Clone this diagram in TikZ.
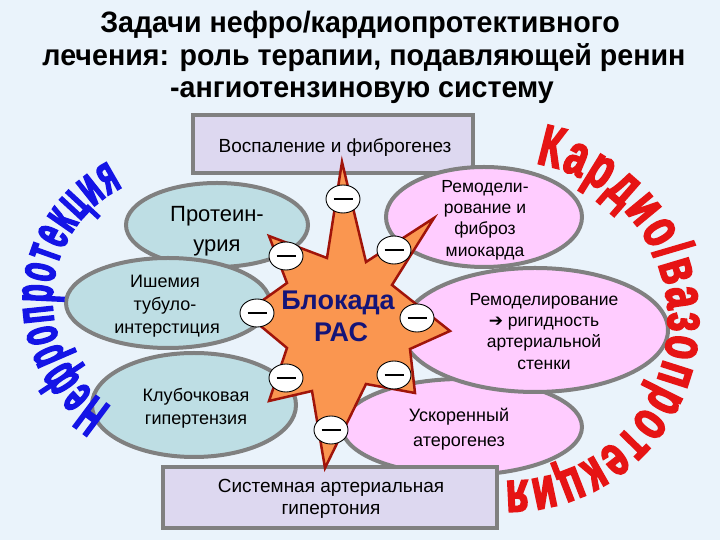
\documentclass[tikz,border=0pt]{standalone}
\usepackage{fontspec}
\setmainfont{Liberation Sans}
\newfontfamily\titlefont{Liberation Sans Bold}[FakeStretch=0.97]
\newfontfamily\arcfontB{Liberation Sans Bold}[FakeStretch=0.52,FakeBold=2.5]
\newfontfamily\arcfontR{Liberation Sans Bold}[FakeStretch=0.66,FakeBold=3]
\newfontfamily\symfont{DejaVu Sans}
\usetikzlibrary{shapes.geometric,decorations.text}
\definecolor{bgc}{RGB}{234,243,251}
\definecolor{tealc}{RGB}{190,222,228}
\definecolor{pinkc}{RGB}{255,204,255}
\definecolor{boxc}{RGB}{221,216,240}
\definecolor{grayc}{RGB}{128,128,128}
\definecolor{starc}{RGB}{250,150,80}
\definecolor{stardc}{RGB}{160,20,10}
\definecolor{navyc}{RGB}{20,20,120}
\definecolor{nblue}{RGB}{20,20,230}
\definecolor{nred}{RGB}{230,20,20}
\newcommand\bluearc{\fontsize{56}{56}\selectfont\arcfontB}
\newcommand\redarc{\fontsize{58}{58}\selectfont\arcfontR}
\begin{document}
\begin{tikzpicture}[x=1pt,y=1pt,
  titlestyle/.style={anchor=base,inner sep=0pt,font=\fontsize{29.5}{29.5}\titlefont},
  boxstyle/.style={rectangle,draw=grayc,fill=boxc,line width=4pt,inner sep=0pt},
  tealell/.style={ellipse,draw=grayc,fill=tealc,line width=4pt,inner sep=0pt},
  pinkell/.style={ellipse,draw=grayc,fill=pinkc,line width=4pt,inner sep=0pt},
  starstyle/.style={draw=stardc,fill=starc,line width=2.5pt,line join=miter},
  minusnode/.style={ellipse,draw=black,fill=white,line width=0.9pt,minimum width=34pt,minimum height=28pt,inner sep=0pt},
  txt/.style={anchor=base,inner sep=0pt,font=\fontsize{18}{18}\selectfont},
  txtb/.style={anchor=base,inner sep=0pt,font=\fontsize{19}{19}\selectfont},
  txtp/.style={anchor=base,inner sep=0pt,font=\fontsize{17.5}{17.5}\selectfont},
  blk/.style={anchor=base,inner sep=0pt,text=navyc,font=\fontsize{27}{27}\selectfont\bfseries}]
\fill[bgc] (0,0) rectangle (720,540);
\useasboundingbox (0,0) rectangle (720,540);
% title
\node[titlestyle] (t1) at (360,507) {Задачи нефро/кардиопротективного};
\node[titlestyle] (t2) at (364,474) {лечения: роль терапии, подавляющей ренин};
\node[titlestyle] (t3) at (362,442) {-ангиотензиновую систему};
% boxes
\node[boxstyle,minimum width=280pt,minimum height=58pt] (topbox) at (333,396) {};
% ellipses
\node[tealell,minimum width=182pt,minimum height=84pt] (e1) at (217,315) {};
\node[tealell,minimum width=204pt,minimum height=90pt] (e2) at (168,237) {};
\node[tealell,minimum width=204pt,minimum height=104pt] (e3) at (194,135) {};
\node[pinkell,minimum width=240pt,minimum height=96pt] (r3) at (462,113) {};
\node[pinkell,minimum width=266pt,minimum height=124pt] (r2) at (535,210) {};
\node[pinkell,minimum width=196pt,minimum height=100pt] (r1) at (484,323) {};
\node[boxstyle,minimum width=334pt,minimum height=61pt] (botbox) at (330,42.5) {};
% star
\draw[starstyle] (342,378) -- (366,278) -- (434,322) -- (392,255) -- (450,209) -- (410,191)
  -- (415,147) -- (366,156) -- (325,72) -- (312,149) -- (269,139) -- (287,192) -- (245,227)
  -- (287,257) -- (269,304) -- (327,282) -- cycle;
% minus signs
\node[minusnode] (m1) at (343,341) {\rule{19pt}{2.5pt}};
\node[minusnode] (m2) at (286,284) {\rule{19pt}{2.5pt}};
\node[minusnode] (m3) at (394,290) {\rule{19pt}{2.5pt}};
\node[minusnode] (m4) at (257,227) {\rule{19pt}{2.5pt}};
\node[minusnode] (m5) at (417,222) {\rule{19pt}{2.5pt}};
\node[minusnode] (m6) at (286,162) {\rule{19pt}{2.5pt}};
\node[minusnode] (m7) at (394,165) {\rule{19pt}{2.5pt}};
\node[minusnode] (m8) at (331,110) {\rule{19pt}{2.5pt}};
% texts
\node[txtb] (tb1) at (335,387) {Воспаление и фиброгенез};
\node[txtb] (bb1) at (331,47) {Системная артериальная};
\node[txtb] (bb2) at (331,25) {гипертония};
\node[anchor=base,inner sep=0pt,font=\fontsize{22}{22}\selectfont] (p1) at (217,318) {Протеин-};
\node[anchor=base,inner sep=0pt,font=\fontsize{22}{22}\selectfont] (p2) at (217,288) {урия};
\node[txt] (i1) at (165,252) {Ишемия};
\node[txt] (i2) at (165,229) {тубуло-};
\node[txt] (i3) at (167,206) {интерстиция};
\node[txt] (k1) at (196,138) {Клубочковая};
\node[txt] (k2) at (196,115) {гипертензия};
\node[txtp] (a1) at (485,347) {Ремодели-};
\node[txtp] (a2) at (485,326) {рование и};
\node[txtp] (a3) at (485,305) {фиброз};
\node[txtp] (a4) at (485,283) {миокарда};
\node[txtp] (b1) at (544,234) {Ремоделирование};
\node[txtp] (b2) at (544,213) {{\symfont\fontsize{17}{17}\selectfont ➔} ригидность};
\node[txtp] (b3) at (544,192) {артериальной};
\node[txtp] (b4) at (544,170) {стенки};
\node[txt] (u1) at (459,118) {Ускоренный};
\node[txt] (u2) at (459,93) {атерогенез};
\node[blk] (s1) at (338,230) {Блокада};
\node[blk] (s2) at (341,198) {РАС};
% curved texts
\path (178,240) ++(238:125.5) coordinate (bstart);
\path[decorate,decoration={text along path,text={|\bluearc|Нефропротекция},text align={fit to path},text color=nblue}]
  (bstart) arc[start angle=238,end angle=116,radius=125.5];
\path (508,219) ++(80:160) coordinate (rstart);
\path[decorate,decoration={text along path,text={|\redarc|Кардио/вазопротекция},text align={fit to path},text color=nred}]
  (rstart) arc[start angle=80,end angle=-91,radius=160];
\end{tikzpicture}
\end{document}
